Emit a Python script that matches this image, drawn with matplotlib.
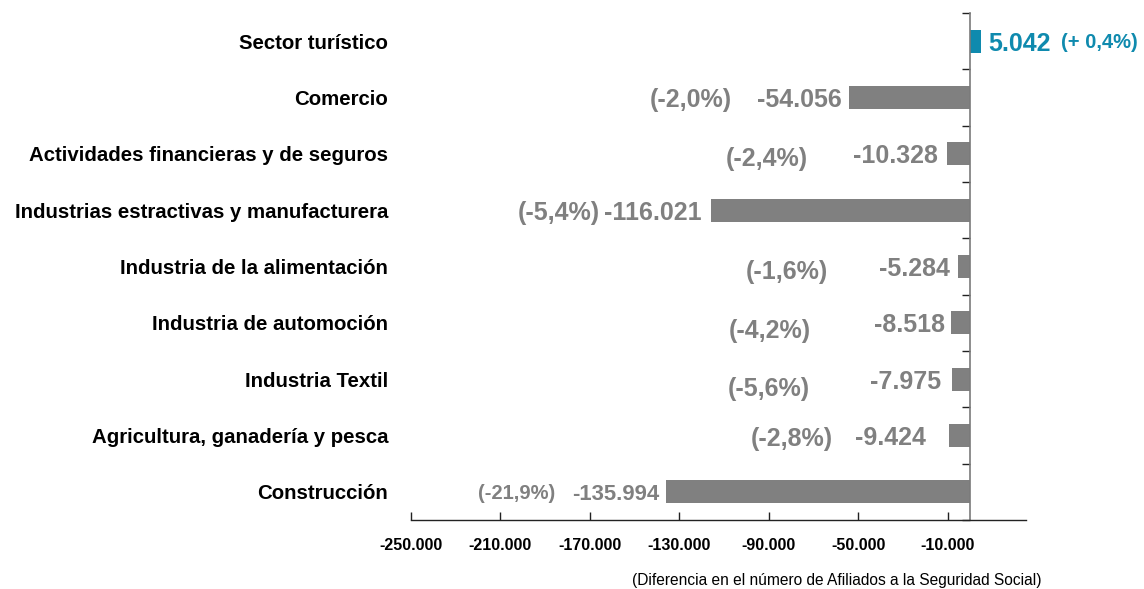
import matplotlib
matplotlib.use("Agg")
import matplotlib.pyplot as plt
from matplotlib.transforms import blended_transform_factory

plt.rcParams['font.family'] = ['Liberation Sans', 'DejaVu Sans']

# ---------------- data ----------------
categories = ["Sector turístico", "Comercio", "Actividades financieras y de seguros",
              "Industrias estractivas y manufacturera", "Industria de la alimentación",
              "Industria de automoción", "Industria Textil",
              "Agricultura, ganadería y pesca", "Construcción"]
values = [5042, -54056, -10328, -116021, -5284, -8518, -7975, -9424, -135994]
pct_labels = ["(+ 0,4%)", "(-2,0%)", "(-2,4%)", "(-5,4%)", "(-1,6%)",
              "(-4,2%)", "(-5,6%)", "(-2,8%)", "(-21,9%)"]
x_ticks = [-250000, -210000, -170000, -130000, -90000, -50000, -10000]
footer = "(Diferencia en el número de Afiliados a la Seguridad Social)"

# ---------------- layout (pixels) ----------------
val_dx = [7, -7, -9, -9, -8, -6, -11, -23, -7]
pct_dx = [80, -117, -139, -111, -130, -140, -142, -116, -111]
pct_dy = [1, 0, -3, 0, -3, -6, -7, -1, 0]
val_fs = [18, 18, 18, 18, 18, 18, 18, 18, 15.9]
pct_fs = [14.5, 18, 18, 18, 18, 18, 18, 18, 14.5]

GRAY = "#808080"
TEAL = "#0f8aae"

def fmt(v):
    return f"{v:,}".replace(",", ".")

fig = plt.figure(figsize=(11.44, 5.89), dpi=100)
ax = fig.add_axes([411 / 1144, 1 - 520 / 589, (1026 - 411) / 1144, (520 - 13) / 589])

ypos = list(range(len(categories)))
colors = [TEAL if v > 0 else GRAY for v in values]
ax.barh(ypos, values, height=0.41, color=colors, zorder=2)

ax.set_xlim(-250000, 25000)
ax.set_ylim(len(categories) - 0.5, -0.5)

px2pt = 72 / fig.dpi
for i, v in enumerate(values):
    c = TEAL if v > 0 else GRAY
    ha = "left" if v > 0 else "right"
    ax.annotate(fmt(v), xy=(v, i), xytext=(val_dx[i] * px2pt, 0),
                textcoords="offset points", ha=ha, va="center_baseline",
                fontsize=val_fs[i], fontweight="bold", color=c)
    ax.annotate(pct_labels[i], xy=(v, i), xytext=(pct_dx[i] * px2pt, pct_dy[i] * px2pt),
                textcoords="offset points", ha=ha, va="center_baseline",
                fontsize=pct_fs[i], fontweight="bold", color=c)

# category labels
trans = blended_transform_factory(fig.transFigure, ax.transData)
for i, cat in enumerate(categories):
    fig.text(388 / 1144, i, cat, transform=trans, ha="right", va="center_baseline",
             fontsize=14.7, fontweight="bold", color="black")

# spines
for s in ["top", "right"]:
    ax.spines[s].set_visible(False)
ax.spines["left"].set_position(("data", 0))
ax.spines["left"].set_color("#7a7a7a")
ax.spines["left"].set_linewidth(1.2)
ax.spines["bottom"].set_color("#222222")
ax.spines["bottom"].set_linewidth(1.0)

ax.set_yticks([k - 0.5 for k in range(len(categories) + 1)])
ax.set_yticklabels([])
ax.tick_params(axis="y", direction="out", length=6, width=1, color="#222222")

ax.set_xticks(x_ticks)
ax.set_xticklabels([fmt(t) for t in x_ticks], fontsize=11.5, fontweight="bold")
ax.tick_params(axis="x", direction="in", length=6, width=1, color="#222222", pad=13)

fig.text(1042 / 1144, 1 - 580 / 589, footer, ha="right", va="center", fontsize=11.2)

fig.savefig("out.png", dpi=100)
